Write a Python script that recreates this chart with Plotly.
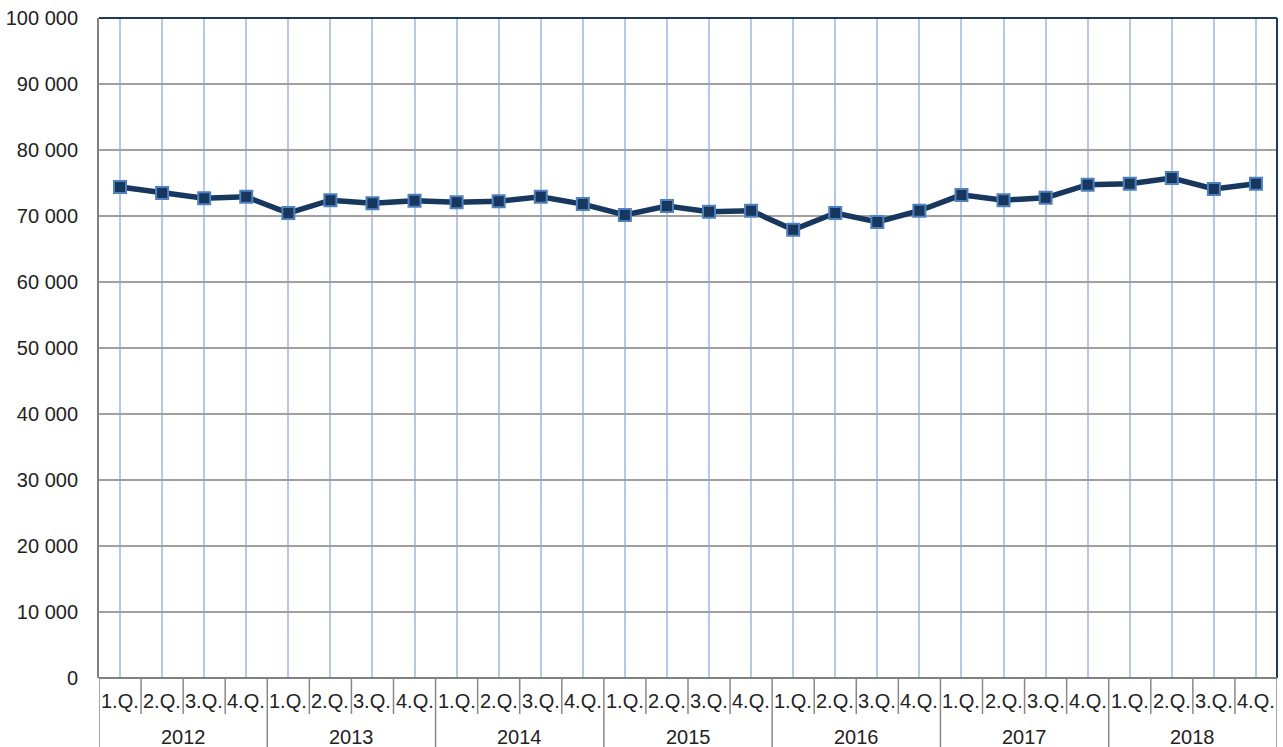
import plotly.graph_objects as go

years = ["2012", "2013", "2014", "2015", "2016", "2017", "2018"]
quarters = ["1.Q.", "2.Q.", "3.Q.", "4.Q."]
values = [
    74400, 73500, 72700, 72900,
    70450, 72400, 71950, 72300,
    72100, 72250, 72900, 71800,
    70150, 71500, 70650, 70800,
    67900, 70450, 69100, 70800,
    73200, 72400, 72750, 74750,
    74900, 75750, 74100, 74900,
]

n = len(values)
xs = list(range(n))
H = 660.0

fig = go.Figure()
fig.add_trace(go.Scatter(
    x=xs, y=values, mode="lines+markers",
    line=dict(color="#17375e", width=5.5),
    marker=dict(symbol="square", size=12, color="#17375e",
                line=dict(color="#4f81bd", width=2)),
    showlegend=False, cliponaxis=False,
))

shapes = []
annotations = []
for i in range(n):
    annotations.append(dict(x=i, y=-23 / H, xref="x", yref="paper", text=quarters[i % 4],
                            showarrow=False, font=dict(size=20, color="#222222"),
                            xanchor="center", yanchor="middle"))
for i in range(n + 1):
    is_year = (i % 4 == 0)
    shapes.append(dict(type="line", xref="x", yref="paper", x0=i - 0.5, x1=i - 0.5,
                       y0=0, y1=(-72 / H if is_year else -36 / H),
                       line=dict(color="#888888", width=1.5)))
for k, yr in enumerate(years):
    annotations.append(dict(x=4 * k + 1.5, y=-59 / H, xref="x", yref="paper", text=yr,
                            showarrow=False, font=dict(size=20, color="#222222"),
                            xanchor="center", yanchor="middle"))
# top and right border
shapes.append(dict(type="line", xref="paper", yref="paper", x0=0, x1=1, y0=1, y1=1,
                   line=dict(color="#1f3a5f", width=2)))
shapes.append(dict(type="line", xref="paper", yref="paper", x0=1, x1=1, y0=0, y1=1,
                   line=dict(color="#1f3a5f", width=2)))
shapes.append(dict(type="line", xref="paper", yref="paper", x0=0, x1=1, y0=0, y1=0,
                   line=dict(color="#808080", width=2)))

fig.update_layout(
    width=1283, height=747,
    margin=dict(l=97, r=6, t=18, b=69),
    paper_bgcolor="white", plot_bgcolor="white",
    separators=", ",
    font=dict(family="Liberation Sans, Arial, sans-serif", color="#222222"),
    xaxis=dict(range=[-0.5, n - 0.5], tickvals=xs, showticklabels=False,
               showgrid=True, gridcolor="#b4c8ea", gridwidth=1.5,
               zeroline=False, showline=False, ticks=""),
    yaxis=dict(range=[0, 100000], tickvals=list(range(0, 100001, 10000)),
               tickformat=",d", showgrid=True, gridcolor="#a0a0a0", gridwidth=2,
               zeroline=False, showline=True, linecolor="#808080", linewidth=2,
               mirror=False, ticks="", ticklabelstandoff=15,
               tickfont=dict(size=20, color="#222222")),
    shapes=shapes, annotations=annotations,
)
fig.write_html("out.html", config={"displayModeBar": False},
               post_script="document.body.style.margin='0';document.body.style.overflow='hidden';")
